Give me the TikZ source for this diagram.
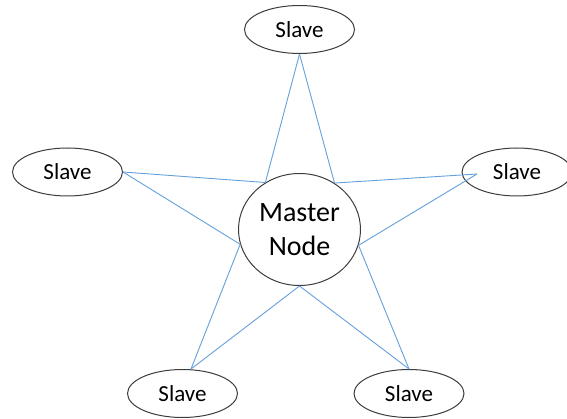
\documentclass[tikz,border=0pt]{standalone}
\usepackage{fontspec}
\setmainfont{Carlito}
\usetikzlibrary{shapes.geometric}
\definecolor{linkblue}{RGB}{100,160,220}
\definecolor{edgegray}{RGB}{60,60,60}
\begin{document}
\begin{tikzpicture}[x=1pt,y=-1pt,
  slave/.style={ellipse, draw=edgegray, line width=1pt, minimum width=110pt, minimum height=48pt, inner sep=0pt, font=\fontsize{23}{27}\selectfont},
  master/.style={ellipse, draw=edgegray, line width=1pt, minimum width=122pt, minimum height=112pt, inner sep=0pt, align=center, font=\fontsize{28}{34}\selectfont},
  link/.style={draw=linkblue, line width=0.9pt}]
\useasboundingbox (0,0) rectangle (567,419);
\node[master] (m) at (299.5,229.5) {Master\\Node};
\node[slave] (ts) at (299.5,29.5) {Slave};
\node[slave] (ls) at (67.5,172) {Slave};
\node[slave] (rs) at (517,172) {Slave};
\node[slave] (bl) at (182.5,393.5) {Slave};
\node[slave] (br) at (409,393.5) {Slave};
\coordinate (rsin) at (477,174);
\coordinate (blin) at (191,369);
\draw[link] (ts.south) -- (m.126.8);
\draw[link] (ts.south) -- (m.53.2);
\draw[link] (ls.east) -- (m.126.8);
\draw[link] (ls.east) -- (m.194.6);
\draw[link] (rsin) -- (m.53.2);
\draw[link] (rsin) -- (m.345.4);
\draw[link] (blin) -- (m.194.6);
\draw[link] (blin) -- (m.south);
\draw[link] (br.north) -- (m.south);
\draw[link] (br.north) -- (m.345.4);
\end{tikzpicture}
\end{document}
